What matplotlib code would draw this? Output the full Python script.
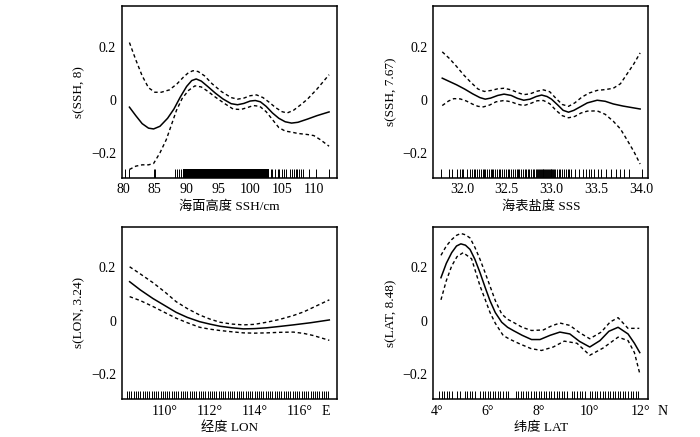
import numpy as np
import matplotlib
matplotlib.use("Agg")
import matplotlib.pyplot as plt

plt.rcParams['font.family'] = ['Liberation Serif', 'Noto Sans CJK SC']
plt.rcParams['axes.unicode_minus'] = True

# ---- SSH panel ----
ssh_x = [81.0, 82.0, 83.0, 84.0, 84.8, 85.8, 87.0, 88.0, 89.0, 90.0, 90.8, 91.5, 92.3, 93.3, 94.5, 95.7,
         97.0, 98.0, 99.0, 100.0, 100.8, 101.6, 102.5, 103.5, 104.5, 105.5, 106.5, 107.5, 109.0, 110.5, 112.4]
ssh_y = [-0.028, -0.06, -0.09, -0.107, -0.11, -0.1, -0.07, -0.035, 0.01, 0.05, 0.072, 0.078, 0.07, 0.05, 0.025, 0.003,
         -0.015, -0.019, -0.014, -0.005, -0.003, -0.008, -0.025, -0.05, -0.07, -0.083, -0.088, -0.085, -0.073, -0.06, -0.046]
ssh_up_x = [81.0, 82.0, 83.0, 84.0, 85.0, 86.0, 87.3, 88.5, 89.5, 90.3, 91.0, 91.8, 92.8, 94.0, 95.5,
            97.0, 98.0, 99.0, 100.0, 101.0, 102.0, 103.0, 104.0, 105.0, 105.8, 106.8, 108.0, 109.0, 110.5, 112.4]
ssh_up_y = [0.215, 0.15, 0.09, 0.045, 0.028, 0.028, 0.037, 0.06, 0.085, 0.102, 0.109, 0.106, 0.09, 0.06, 0.03,
            0.008, 0.002, 0.006, 0.015, 0.018, 0.008, -0.01, -0.03, -0.045, -0.05, -0.04, -0.018, 0.002, 0.04, 0.094]
ssh_lo_x = [81.0, 82.0, 83.0, 84.0, 84.8, 85.8, 86.8, 87.6, 88.4, 89.3, 90.3, 91.3, 92.3, 93.3, 94.5, 96.0,
            97.3, 98.5, 99.5, 100.5, 101.5, 102.5, 103.5, 104.5, 105.5, 106.5, 107.5, 109.0, 110.0, 111.0, 112.4]
ssh_lo_y = [-0.2625, -0.25, -0.245, -0.245, -0.24, -0.2, -0.15, -0.095, -0.04, 0.005, 0.035, 0.052, 0.048, 0.032, 0.01, -0.015,
            -0.035, -0.037, -0.03, -0.022, -0.025, -0.045, -0.075, -0.105, -0.118, -0.122, -0.127, -0.131, -0.135, -0.15, -0.175]
ssh_rug = [80.3, 81.0, 84.9, 85.1, 88.2, 88.5, 88.8, 89.1, 103.2, 103.4, 103.9, 104.3, 104.6, 105.0, 105.3, 105.7,
           106.3, 106.6, 106.9, 107.2, 107.4, 107.7, 108.0, 108.3, 109.3, 110.3, 112.4]
ssh_rug_block = (89.4, 102.9)

# ---- SSS panel ----
sss_x = [31.78, 31.85, 31.94, 32.03, 32.12, 32.20, 32.26, 32.32, 32.40, 32.47, 32.55, 32.62, 32.69, 32.76, 32.83,
         32.89, 32.95, 33.00, 33.07, 33.13, 33.19, 33.25, 33.32, 33.40, 33.51, 33.60, 33.69, 33.80, 33.99]
sss_y = [0.081, 0.07, 0.056, 0.04, 0.022, 0.008, 0.002, 0.006, 0.016, 0.021, 0.016, 0.005, -0.002, 0.002, 0.012,
         0.0175, 0.012, 0.002, -0.02, -0.04, -0.047, -0.04, -0.027, -0.012, -0.002, -0.006, -0.016, -0.024, -0.035]
sss_up_x = [31.78, 31.86, 31.94, 32.02, 32.10, 32.18, 32.25, 32.33, 32.40, 32.47, 32.55, 32.62, 32.69, 32.76, 32.84,
            32.91, 32.98, 33.05, 33.12, 33.19, 33.26, 33.34, 33.42, 33.51, 33.60, 33.69, 33.77, 33.84, 33.92, 33.99]
sss_up_y = [0.18, 0.155, 0.125, 0.093, 0.065, 0.04, 0.031, 0.035, 0.041, 0.043, 0.037, 0.027, 0.019, 0.022, 0.032,
            0.037, 0.03, 0.005, -0.018, -0.025, -0.012, 0.01, 0.025, 0.035, 0.038, 0.043, 0.06, 0.095, 0.135, 0.176]
sss_lo_x = [31.78, 31.85, 31.91, 31.98, 32.05, 32.12, 32.18, 32.24, 32.31, 32.38, 32.47, 32.55, 32.62, 32.69, 32.76, 32.84,
            32.91, 32.98, 33.05, 33.12, 33.19, 33.26, 33.33, 33.40, 33.51, 33.60, 33.69, 33.77, 33.84, 33.92, 33.99]
sss_lo_y = [-0.022, -0.005, 0.004, 0.003, -0.005, -0.017, -0.025, -0.027, -0.02, -0.008, -0.003, -0.008, -0.017, -0.022, -0.015, -0.004,
            -0.003, -0.015, -0.04, -0.06, -0.068, -0.063, -0.05, -0.043, -0.042, -0.055, -0.081, -0.11, -0.149, -0.195, -0.242]
sss_rug = [31.77, 31.85, 31.89, 31.94, 31.98, 32.00, 32.01, 32.06, 32.09, 32.11, 32.13, 32.15, 32.17,
           32.19, 32.21, 32.23, 32.25, 32.26, 32.28, 32.30, 32.32, 32.34, 32.35, 32.37, 32.39, 32.41, 32.43,
           32.45, 32.47, 32.49, 32.51, 32.53, 32.55, 32.57, 32.59, 32.61, 32.63, 32.64, 32.66, 32.68, 32.70,
           32.72, 32.74, 32.75, 32.77, 32.79, 32.81, 32.83, 32.84, 32.85, 32.86, 32.87, 32.88, 32.89, 32.90,
           32.91, 32.92, 32.93, 32.94, 32.95, 32.96, 32.97, 32.98, 32.99, 33.00, 33.01, 33.02, 33.03, 33.04,
           33.06, 33.08, 33.10, 33.12, 33.14, 33.16, 33.18, 33.20, 33.22,
           33.26, 33.31, 33.35, 33.39, 33.42, 33.44, 33.48, 33.52, 33.55, 33.61, 33.66, 33.72, 33.76, 33.81,
           33.87, 34.01]

# ---- LON panel ----
lon_x = [108.42, 108.9, 109.46, 110.0, 110.5, 111.0, 111.55, 112.0, 112.45, 113.0, 113.5, 114.0, 114.54,
         115.1, 115.73, 116.5, 117.34]
lon_y = [0.146, 0.115, 0.083, 0.056, 0.031, 0.012, -0.004, -0.013, -0.021, -0.027, -0.031, -0.03, -0.027,
         -0.022, -0.016, -0.008, 0.0025]
lon_ci_x = [108.42, 108.9, 109.46, 110.0, 110.5, 111.0, 111.55, 112.0, 112.45, 113.0, 113.5, 114.0, 114.54,
            115.1, 115.73, 116.2, 116.63, 117.34]
lon_up_y = [0.202, 0.175, 0.1425, 0.107, 0.071, 0.045, 0.021, 0.006, -0.006, -0.013, -0.016, -0.014, -0.006,
            0.004, 0.019, 0.033, 0.05, 0.078]
lon_lo_y = [0.09, 0.075, 0.053, 0.03, 0.009, -0.008, -0.025, -0.032, -0.037, -0.042, -0.046, -0.047, -0.046,
            -0.044, -0.043, -0.048, -0.056, -0.074]
lon_rug = [108.3, 108.4, 108.5, 108.6, 108.7, 108.8, 108.9, 109.0, 109.1, 109.2, 109.3, 109.4, 109.5, 109.6,
           109.7, 109.8, 109.9, 110.0, 110.1, 110.2, 110.3, 110.4, 110.5, 110.6, 110.7, 110.8, 110.9, 111.0,
           111.1, 111.2, 111.3, 111.4, 111.5, 111.6, 111.7, 111.8, 111.9, 112.0, 112.1, 112.2, 112.3, 112.4,
           112.5, 112.6, 112.7, 112.8, 112.9, 113.0, 113.1, 113.2, 113.3, 113.4, 113.5, 113.6, 113.7, 113.8,
           113.9, 114.0, 114.1, 114.2, 114.3, 114.4, 114.5, 114.6, 114.7, 114.8, 114.9, 115.0, 115.1, 115.2,
           115.3, 115.4, 115.5, 115.6, 115.7, 115.8, 115.9, 116.0, 116.1, 116.2, 116.3, 116.4, 116.5, 116.6,
           116.7, 116.8, 116.9, 117.0, 117.1, 117.2, 117.3]

# ---- LAT panel ----
lat_x = [4.17, 4.38, 4.59, 4.78, 4.95, 5.13, 5.31, 5.50, 5.70, 5.90, 6.09, 6.30, 6.55, 6.78, 7.0, 7.35, 7.72,
         8.05, 8.45, 8.83, 9.22, 9.60, 10.0, 10.4, 10.75, 11.11, 11.5, 11.75, 11.96]
lat_y = [0.161, 0.215, 0.255, 0.28, 0.288, 0.283, 0.267, 0.23, 0.18, 0.125, 0.075, 0.03, -0.006, -0.025, -0.037,
         -0.055, -0.071, -0.071, -0.055, -0.043, -0.05, -0.078, -0.099, -0.075, -0.04, -0.025, -0.05, -0.085, -0.12]
lat_up_x = [4.17, 4.38, 4.59, 4.78, 4.95, 5.13, 5.31, 5.50, 5.70, 5.90, 6.09, 6.30, 6.55, 6.78, 7.0, 7.35, 7.72,
            8.18, 8.50, 8.83, 9.22, 9.60, 10.0, 10.45, 10.80, 11.11, 11.5, 11.94]
lat_up_y = [0.245, 0.28, 0.304, 0.32, 0.327, 0.322, 0.31, 0.275, 0.23, 0.18, 0.13, 0.075, 0.025, 0.005, -0.006,
            -0.025, -0.037, -0.035, -0.02, -0.009, -0.018, -0.045, -0.068, -0.043, -0.005, 0.011, -0.029, -0.029]
lat_lo_x = [4.17, 4.38, 4.59, 4.80, 5.04, 5.37, 5.70, 5.90, 6.09, 6.30, 6.61, 6.87, 7.25, 7.70, 8.11, 8.57,
            9.0, 9.5, 10.0, 10.52, 11.11, 11.5, 11.75, 11.96]
lat_lo_y = [0.078, 0.15, 0.205, 0.24, 0.255, 0.232, 0.13, 0.08, 0.031, -0.01, -0.056, -0.07, -0.087, -0.105,
            -0.112, -0.099, -0.077, -0.085, -0.13, -0.103, -0.062, -0.075, -0.12, -0.199]
lat_rug = [4.1, 4.2, 4.3, 4.4, 4.5, 4.6, 4.8, 4.9, 5.1, 5.2, 5.3, 5.4, 5.5, 5.7, 5.8, 5.9, 6.0, 6.1, 6.2,
           6.3, 6.4, 6.5, 6.6, 6.7, 6.8, 7.1, 7.2, 7.3, 7.4, 7.5, 7.6, 7.7, 7.8, 7.9, 8.0, 8.1, 8.2, 8.3,
           8.4, 8.5, 8.6, 8.7, 8.8, 8.9, 9.0, 9.1, 9.3, 9.4, 9.5, 9.6, 9.7, 9.8, 10.0, 10.1, 10.2, 10.3,
           10.4, 10.5, 10.6, 10.7, 10.8, 10.9, 11.0, 11.1, 11.2, 11.3, 11.4, 11.5, 11.6, 11.7, 11.8, 11.9]

y_ticks = [-0.2, 0, 0.2]
y_tick_labels = ['\u22120.2', '0', '0.2']
ylim = (-0.294, 0.352)
rug_top = -0.2625

fig = plt.figure(figsize=(7, 4.37), dpi=100)
ax1 = fig.add_axes([0.174, 0.593, 0.307, 0.393])
ax2 = fig.add_axes([0.619, 0.593, 0.307, 0.393])
ax3 = fig.add_axes([0.174, 0.087, 0.307, 0.394])
ax4 = fig.add_axes([0.619, 0.087, 0.307, 0.394])

dash = (0, (2.5, 2))


def style(ax, xlim, xticks, xticklabels, xlabel, ylabel):
    ax.set_xlim(*xlim)
    ax.set_ylim(*ylim)
    ax.set_xticks(xticks)
    ax.set_xticklabels(xticklabels)
    ax.set_yticks(y_ticks)
    ax.set_yticklabels(y_tick_labels)
    ax.tick_params(length=0, labelsize=10, pad=4)
    ax.set_xlabel(xlabel, fontsize=9.5, labelpad=3)
    ax.set_ylabel(ylabel, fontsize=9.5, labelpad=4)
    for s in ax.spines.values():
        s.set_linewidth(1.1)


# SSH
ax1.plot(ssh_x, ssh_y, color='black', lw=1.1)
ax1.plot(ssh_up_x, ssh_up_y, color='black', lw=1.0, ls=dash)
ax1.plot(ssh_lo_x, ssh_lo_y, color='black', lw=1.0, ls=dash)
ax1.vlines(ssh_rug, ylim[0], rug_top, color='black', lw=0.7)
ax1.fill_between(ssh_rug_block, ylim[0], rug_top, color='black', lw=0)
style(ax1, (79.8, 113.6), [80, 85, 90, 95, 100, 105, 110],
      ['80', '85', '90', '95', '100', '105', '110'], '海面高度 SSH/cm', 's(SSH, 8)')

# SSS
ax2.plot(sss_x, sss_y, color='black', lw=1.1)
ax2.plot(sss_up_x, sss_up_y, color='black', lw=1.0, ls=dash)
ax2.plot(sss_lo_x, sss_lo_y, color='black', lw=1.0, ls=dash)
ax2.vlines(sss_rug, ylim[0], rug_top, color='black', lw=0.7)
style(ax2, (31.68, 34.08), [32.0, 32.5, 33.0, 33.5, 34.0],
      ['32.0', '32.5', '33.0', '33.5', '34.0'], '海表盐度 SSS', 's(SSH, 7.67)')

# LON
ax3.plot(lon_x, lon_y, color='black', lw=1.1)
ax3.plot(lon_ci_x, lon_up_y, color='black', lw=1.0, ls=dash)
ax3.plot(lon_ci_x, lon_lo_y, color='black', lw=1.0, ls=dash)
ax3.vlines(lon_rug, ylim[0], rug_top, color='black', lw=0.7)
style(ax3, (108.07, 117.67), [110, 112, 114, 116],
      ['110°', '112°', '114°', '116°'], '经度 LON', 's(LON, 3.24)')
ax3.annotate('E', xy=(117.2, 0), xycoords=('data', 'axes fraction'), xytext=(0, -4),
             textcoords='offset points', ha='center', va='top', fontsize=10, annotation_clip=False)

# LAT
ax4.plot(lat_x, lat_y, color='black', lw=1.1)
ax4.plot(lat_up_x, lat_up_y, color='black', lw=1.0, ls=dash)
ax4.plot(lat_lo_x, lat_lo_y, color='black', lw=1.0, ls=dash)
ax4.vlines(lat_rug, ylim[0], rug_top, color='black', lw=0.7)
style(ax4, (3.87, 12.29), [4, 6, 8, 10, 12],
      ['4°', '6°', '8°', '10°', '12°'], '纬度 LAT', 's(LAT, 8.48)')
ax4.annotate('N', xy=(12.85, 0), xycoords=('data', 'axes fraction'), xytext=(0, -4),
             textcoords='offset points', ha='center', va='top', fontsize=10, annotation_clip=False)

fig.savefig('out.png', dpi=100)
